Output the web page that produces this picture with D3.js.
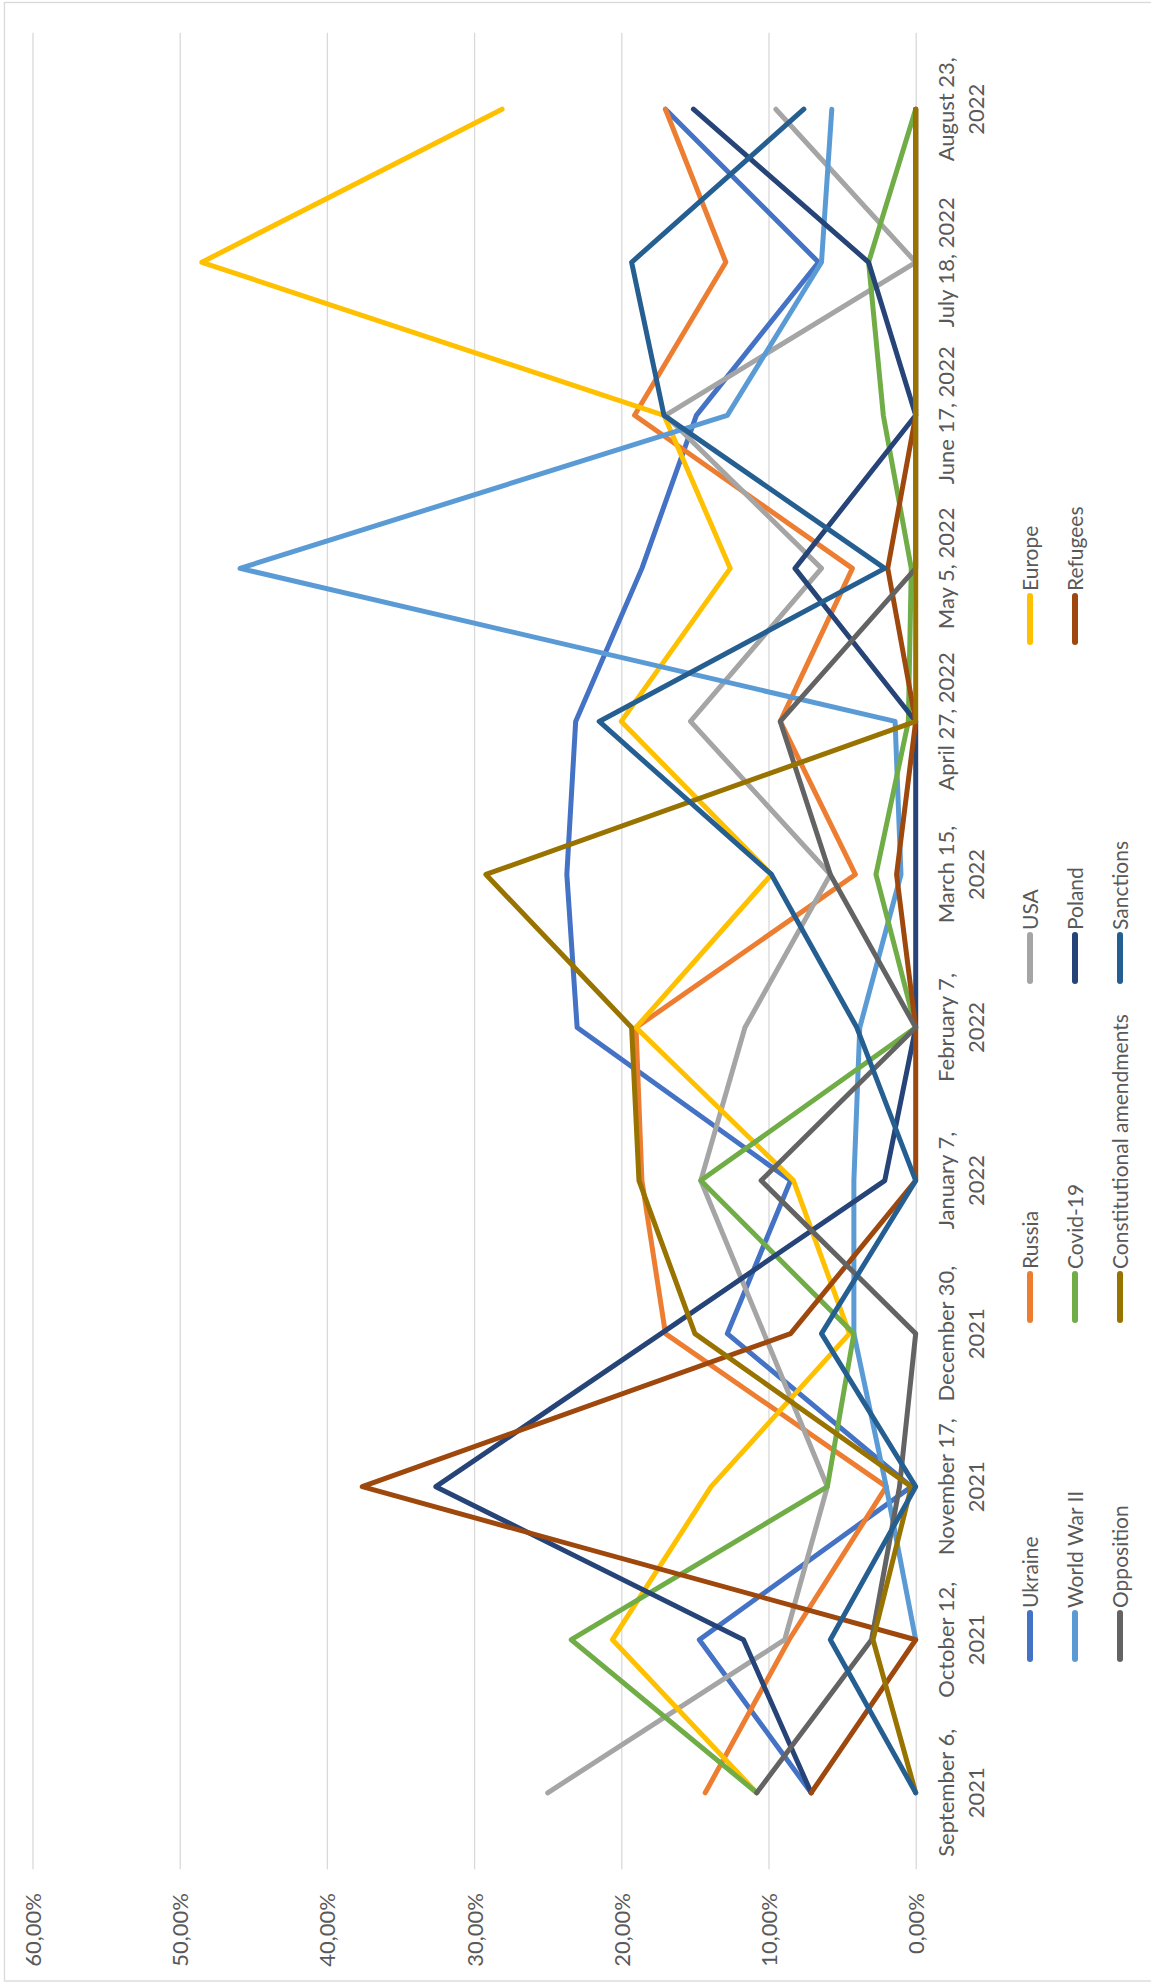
<!DOCTYPE html>
<html><head><meta charset="utf-8">
<script src="https://cdn.jsdelivr.net/npm/d3@7"></script>
<style>body{margin:0;background:#fff;} svg{display:block;font-family:Lato, "Open Sans", sans-serif;}</style>
</head><body>
<svg id="chart" width="1151" height="1982"></svg>
<script>
const categories = ["September 6, 2021","October 12, 2021","November 17, 2021","December 30, 2021","January 7, 2022","February 7, 2022","March 15, 2022","April 27, 2022","May 5, 2022","June 17, 2022","July 18, 2022","August 23, 2022"];
const categoryLines = [["September 6,","2021"],["October 12,","2021"],["November 17,","2021"],["December 30,","2021"],["January 7,","2022"],["February 7,","2022"],["March 15,","2022"],["April 27, 2022"],["May 5, 2022"],["June 17, 2022"],["July 18, 2022"],["August 23,","2022"]];
const valueTicks = [0, 0.1, 0.2, 0.3, 0.4, 0.5, 0.6];

const seriesNames = ["Ukraine","Russia","USA","Europe","World War II","Covid-19","Poland","Refugees","Opposition","Constitutional amendments","Sanctions"];
const seriesColors = ["#4472C4","#ED7D31","#A5A5A5","#FFC000","#5B9BD5","#70AD47","#264478","#9E480E","#636363","#997300","#255E91"];

// values in percent
const ukraine        = [7.1, 14.7, 0.3, 12.8, 8.5, 23.0, 23.7, 23.1, 18.6, 14.9, 6.6, 17.0];
const russia         = [14.3, 8.6, 2.0, 17.0, 18.6, 19.0, 4.1, 9.2, 4.3, 19.1, 12.9, 17.0];
const usa            = [25.0, 8.9, 6.0, 10.3, 14.6, 11.6, 5.8, 15.3, 6.4, 17.0, 0, 9.5];
const europe         = [10.8, 20.6, 13.9, 4.5, 8.3, 19.0, 9.8, 20.0, 12.6, 17.1, 48.5, 28.1];
const worldWar2      = [null, 0, 2.0, 4.2, 4.2, 3.8, 1.0, 1.4, 45.9, 12.8, 6.4, 5.7];
const covid19        = [10.8, 23.4, 6.0, 4.2, 14.6, 0, 2.7, 0.5, 0.3, 2.2, 3.2, 0];
const poland         = [7.1, 11.7, 32.6, 17.3, 2.1, 0, 0, 0, 8.2, 0, 3.2, 15.1];
const refugees       = [7.1, 0, 37.6, 8.5, 0, 0, 1.3, 0, 1.9, 0, 0, 0];
const opposition     = [10.8, 3.0, 1.1, 0, 10.5, 0, 5.8, 9.2, 0, 0, 0, 0];
const constitutional = [0, 2.9, 0.3, 15.0, 18.8, 19.3, 29.2, 0, 0, 0, 0, 0];
const sanctions      = [0, 5.8, 0, 6.4, 0, 4.0, 9.8, 21.5, 2.1, 17.1, 19.3, 7.6];

const seriesValues = [ukraine, russia, usa, europe, worldWar2, covid19, poland, refugees, opposition, constitutional, sanctions];

const svg = d3.select("#chart");
// outer border
svg.append("rect").attr("x",4.5).attr("y",2.5).attr("width",1170).attr("height",1978.5)
  .attr("fill","none").attr("stroke","#d9d9d9").attr("stroke-width",1.3);

// chart drawn in landscape frame, then rotated -90deg
const W = 1982;
const g = svg.append("g").attr("transform",`translate(0,${W}) rotate(-90)`);

const plotLeft = 112.7, plotRight = 1949.3;
const x = d3.scaleBand().domain(categories).range([plotLeft, plotRight]);
const cx = c => x(c) + x.bandwidth()/2;
const y = d3.scaleLinear().domain([0, 0.6]).range([915.7, 32.5]);

const locale = d3.formatLocale({decimal: ",", thousands: ".", grouping: [3], currency: ["", "€"]});
const pct = locale.format(".2%");

const yAxis = d3.axisLeft(y).tickValues(valueTicks).tickFormat(pct)
  .tickSize(-(plotRight - plotLeft)).tickPadding(23.7);
const ya = g.append("g").attr("transform",`translate(${plotLeft},0)`).call(yAxis);
ya.select(".domain").remove();
ya.selectAll(".tick line").attr("stroke","#d9d9d9").attr("stroke-width",1.3);
ya.selectAll(".tick text").attr("fill","#595959").attr("font-size",22)
  .attr("font-family","Lato").attr("dy","0.36em");

// category labels
const xl = g.append("g");
categories.forEach((c, i) => {
  const t = xl.append("text").attr("x", cx(c)).attr("text-anchor","middle")
    .attr("fill","#595959").attr("font-size",22).attr("font-family","Lato");
  categoryLines[i].forEach((ln, j) => {
    t.append("tspan").attr("x", cx(c)).attr("y", 954 + j*30).text(ln);
  });
});

// lines
const line = d3.line()
  .defined(d => d != null)
  .x((d, i) => cx(categories[i]))
  .y(d => y(d/100));
seriesValues.forEach((vals, k) => {
  g.append("path").datum(vals).attr("d", line)
    .attr("fill","none").attr("stroke", seriesColors[k]).attr("stroke-width",5)
    .attr("stroke-linejoin","round").attr("stroke-linecap","round");
});

// legend: 4 columns x 3 rows
const legCol0 = 320, legPitch = 339, legRows = [1030, 1075, 1120], perRow = 4;
seriesNames.forEach((name, k) => {
  const col = k % perRow, row = Math.floor(k / perRow);
  const u0 = legCol0 + col*legPitch, v = legRows[row];
  g.append("line").attr("x1", u0+3).attr("x2", u0+49).attr("y1", v).attr("y2", v)
    .attr("stroke", seriesColors[k]).attr("stroke-width",6).attr("stroke-linecap","round");
  g.append("text").attr("x", u0+54).attr("y", v+8).attr("fill","#595959")
    .attr("font-size",21).attr("font-family","Lato").text(name);
});
</script>
</body></html>
